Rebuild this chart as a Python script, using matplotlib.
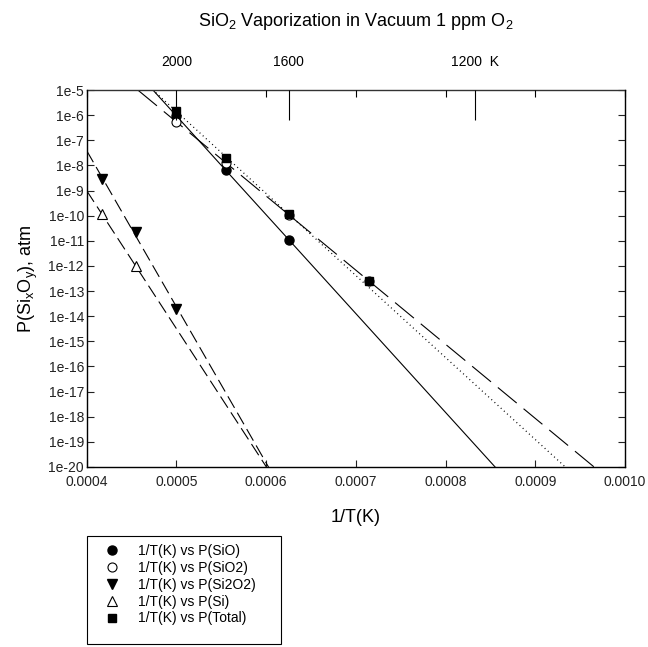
import numpy as np
import matplotlib
matplotlib.use("Agg")
import matplotlib.pyplot as plt
from matplotlib.patches import Rectangle

plt.rcParams['font.family'] = ['Liberation Sans', 'DejaVu Sans']
plt.rcParams['mathtext.fontset'] = 'custom'
plt.rcParams['mathtext.rm'] = 'Liberation Sans'
plt.rcParams['mathtext.it'] = 'Liberation Sans'

# temperatures (K) and partial pressures (atm)
T_main = [2000, 1800, 1600, 1400]
p_sio = [9.0e-7, 6.5e-9, 1.1e-11]            # 2000-1600 K
p_sio2 = [5.5e-7, 1.2e-8, 1.1e-10, 2.6e-13]
p_total = [1.45e-6, 2.0e-8, 1.2e-10, 2.6e-13]
T_hot = [2400, 2200, 2000]
p_si2o2 = [2.9e-9, 2.3e-11, 2.0e-14]
p_si = [1.2e-10, 1.0e-12]                     # 2400, 2200 K

x_ticks = [0.0004, 0.0005, 0.0006, 0.0007, 0.0008, 0.0009, 0.0010]
top_T = [2000, 1600, 1200]
top_labels = ['2000', '1600', '1200  K']


def fit_line(T, p, u):
    """log-linear regression of P against 1/T, evaluated at u."""
    inv = 1.0 / np.asarray(T, dtype=float)
    k, b = np.polyfit(inv, np.log10(p), 1)
    return 10 ** (k * u + b)


W, H = 648, 647
fig = plt.figure(figsize=(W / 100, H / 100), dpi=100)
ax = fig.add_axes([86.7 / W, 1 - 467 / H, (625 - 86.7) / W, (467 - 90) / H])

u = np.linspace(0.0004, 0.0010, 400)
ink = 'black'
ax.plot(u, fit_line(T_main[:3], p_sio, u), color=ink, lw=0.8)
ax.plot(u, fit_line(T_main, p_sio2, u), color=ink, lw=0.8, dashes=(22, 8))
# total: regression over 2000-1600 K
ax.plot(u, fit_line(T_main[:3], p_total[:3], u), color=ink, lw=0.9, dashes=(0.8, 2.6))
ax.plot(u, fit_line(T_hot, p_si2o2, u), color=ink, lw=0.8, dashes=(12, 5))
ax.plot(u, fit_line(T_hot[:2], p_si, u), color=ink, lw=0.8, dashes=(12, 5))

# markers drawn in legend order, later series on top
inv_main = 1.0 / np.array(T_main)
inv_hot = 1.0 / np.array(T_hot)
ms = 6.5
ax.plot(inv_main[:3], p_sio, 'o', ms=ms, color=ink, ls='none',
        label='1/T(K) vs P(SiO)', zorder=3)
ax.plot(inv_main, p_sio2, 'o', ms=ms, mfc='white', mec=ink, mew=0.8, ls='none',
        label='1/T(K) vs P(SiO2)', zorder=3.5)
ax.plot(inv_hot, p_si2o2, 'v', ms=ms + 0.5, color=ink, ls='none',
        label='1/T(K) vs P(Si2O2)', zorder=4)
ax.plot(inv_hot[:2], p_si, '^', ms=ms, mfc='white', mec=ink, mew=0.8, ls='none',
        label='1/T(K) vs P(Si)', zorder=4)
ax.plot(inv_main, p_total, 's', ms=ms - 0.5, color=ink, ls='none',
        label='1/T(K) vs P(Total)', zorder=5)

ax.set_yscale('log')
ax.set_xlim(0.0004, 0.0010)
ax.set_ylim(1e-20, 1e-5)
ax.set_xticks(x_ticks)
ax.set_xticklabels([f'{v:.4f}' for v in x_ticks])
decades = list(range(-20, -4))
ax.set_yticks([10.0 ** d for d in decades])
ax.set_yticklabels([f'1e{d}' for d in decades])
ax.yaxis.set_minor_locator(matplotlib.ticker.NullLocator())
ax.tick_params(axis='both', direction='in', length=5, width=0.8, labelsize=10,
               right=True, colors='#222222')
ax.tick_params(axis='x', pad=6)
ax.tick_params(axis='y', pad=2)
for s in ax.spines.values():
    s.set_linewidth(1.0)
    s.set_color('#333333')

ax.set_xlabel('1/T(K)', fontsize=13, labelpad=14)
ax.set_ylabel('P(Si$_x$O$_y$), atm', fontsize=13, labelpad=6)

# top axis: temperature in K
top = ax.twiny()
top.set_xlim(ax.get_xlim())
top.set_xticks([1.0 / t for t in top_T])
top.set_xticklabels(top_labels)
top.set_xticks(x_ticks, minor=True)
top.tick_params(axis='x', which='major', direction='in', length=21.5, width=0.8,
                labelsize=10, pad=15)
top.tick_params(axis='x', which='minor', direction='in', length=5, width=0.8)
top.spines['top'].set_visible(False)

fig.text(0.549, 0.966, 'SiO$_2$ Vaporization in Vacuum 1 ppm O$_2$',
         ha='center', va='center', fontsize=13)

# legend below the plot, frame drawn separately so it can be wider than the text
leg_top, leg_bottom, leg_left, leg_right = 536, 644, 86.7, 281
fig.legend(*ax.get_legend_handles_labels(),
           loc='upper left', bbox_to_anchor=(leg_left / W, 1 - leg_top / H),
           fontsize=10, frameon=False, borderpad=0.6, handlelength=2.4,
           handletextpad=0.7, labelspacing=0.2, borderaxespad=0)
fig.add_artist(Rectangle((leg_left / W, 1 - leg_bottom / H),
                         (leg_right - leg_left) / W, (leg_bottom - leg_top) / H,
                         transform=fig.transFigure, fill=False, ec='black',
                         lw=0.8, clip_on=False))

fig.savefig('out.png', dpi=100)
